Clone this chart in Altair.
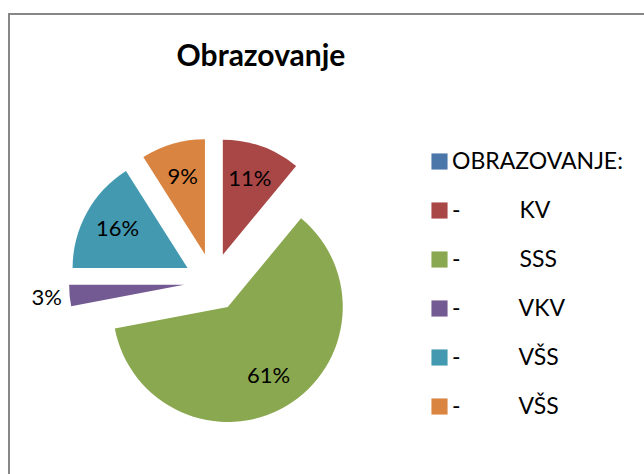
import json
import altair as alt
import pandas as pd

# ---- data ----
categories = ["OBRAZOVANJE:", "KV", "SSS", "VKV", "VŠS", "VŠS"]
values = [0, 11, 61, 3, 16, 9]
colors = ["#4A76A9", "#A94646", "#8AA84F", "#745A93", "#4399B0", "#DA8441"]

keys = [str(i) for i in range(len(categories))]
pad = "\u00a0" * 10
legend_labels = [categories[0]] + ["-" + pad + c for c in categories[1:]]

df = pd.DataFrame({"key": keys, "order": list(range(len(keys))), "name": categories, "value": values})

# ---- layout constants ----
CX, CY = 213, 282      # pie centre (px)
R = 115                # pie radius
EXPLODE = 29           # explosion distance
LABEL_IN = 80
LABEL_OUT = 138
FONT = "Lato"

base = alt.Chart(df).transform_joinaggregate(
    total="sum(value)"
).transform_window(
    cum="sum(value)", sort=[alt.SortField("order")], frame=[None, 0]
).transform_calculate(
    t0="2*PI*(datum.cum - datum.value)/datum.total",
    t1="2*PI*datum.cum/datum.total",
).transform_calculate(
    mid="(datum.t0 + datum.t1)/2",
    frac="datum.value/datum.total",
).transform_calculate(
    cx=f"{CX} + {EXPLODE}*sin(datum.mid)",
    cy=f"{CY} - {EXPLODE}*cos(datum.mid)",
    lr=f"datum.frac < 0.05 ? {LABEL_OUT} : {LABEL_IN}",
).transform_calculate(
    lx="datum.cx + datum.lr*sin(datum.mid)",
    ly="datum.cy - datum.lr*cos(datum.mid)",
    pct="format(datum.frac, '.0%')",
)

label_expr = json.dumps(legend_labels, ensure_ascii=False) + "[toNumber(datum.value)]"

arcs = base.mark_arc(outerRadius=R, stroke=None).encode(
    x=alt.X("cx:Q", scale=None),
    y=alt.Y("cy:Q", scale=None),
    theta=alt.Theta("t0:Q", scale=None),
    theta2="t1:Q",
    color=alt.Color(
        "key:N",
        scale=alt.Scale(domain=keys, range=colors),
        legend=alt.Legend(
            title=None,
            orient="none",
            legendX=428,
            legendY=150,
            padding=0,
            symbolType="square",
            symbolSize=260,
            symbolStrokeWidth=0,
            symbolOpacity=1,
            labelFont=FONT,
            labelFontSize=23,
            labelColor="#000000",
            labelOffset=1,
            labelLimit=400,
            rowPadding=25,
            labelExpr=label_expr,
        ),
    ),
)

labels = base.transform_filter("datum.value > 0").mark_text(
    font=FONT, fontSize=22, color="#000000", align="center", baseline="middle"
).encode(
    x=alt.X("lx:Q", scale=None),
    y=alt.Y("ly:Q", scale=None),
    text="pct:N",
)

frame_top = alt.Chart(df).mark_rule(color="#878787", strokeWidth=2).encode(
    x=alt.value(8), x2=alt.value(644), y=alt.value(14)
)
frame_left = alt.Chart(df).mark_rule(color="#878787", strokeWidth=2).encode(
    x=alt.value(9), y=alt.value(13), y2=alt.value(474)
)

chart = alt.layer(frame_top, frame_left, arcs, labels).properties(
    width=644,
    height=474,
    padding=0,
    autosize=alt.AutoSizeParams(type="none"),
    background="#ffffff",
    title=alt.TitleParams(
        "Obrazovanje",
        font=FONT,
        fontSize=30,
        fontWeight="bold",
        color="#000000",
        anchor="middle",
        frame="group",
        offset=0,
        dx=-61,
        dy=96,
        baseline="alphabetic",
    ),
).configure_view(stroke=None)

chart.save("out.html", embed_options={"renderer": "svg", "actions": False})
